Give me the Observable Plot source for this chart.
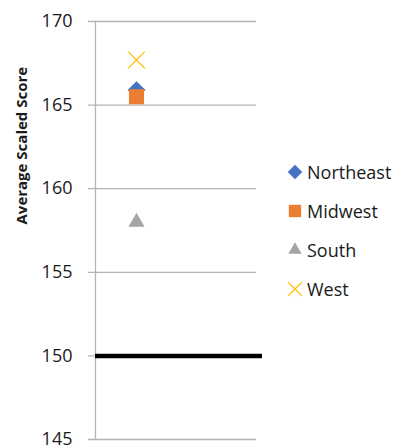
<!DOCTYPE html>
<html><head><meta charset="utf-8">
<script src="https://cdn.jsdelivr.net/npm/d3@7"></script>
<script src="https://cdn.jsdelivr.net/npm/@observablehq/plot@0.6"></script>
<style>
body{margin:0;background:#fff;font-family:"Open Sans",sans-serif;}
#wrap{position:relative;width:399px;height:447px;}
#legend{position:absolute;left:287px;top:152px;font-size:18px;color:#1a1a1a;}
.row{display:flex;align-items:center;height:39px;}
.row svg{margin-right:4px;}
</style></head><body>
<div id="wrap"><div id="chart"></div><div id="legend"></div></div>
<script>
const categories = ["1", "2"];
const regions = ["Northeast", "Midwest", "South", "West"];
const scores = [165.9, 165.5, 158.0, 167.7];
const colors = ["#4472C4", "#ED7D31", "#A5A5A5", "#FFC000"];
const benchmark = [150];
const yTicks = [145, 150, 155, 160, 165, 170];

const symbols = [d3.symbolDiamond2, d3.symbolSquare, d3.symbolTriangle, d3.symbolTimes];
const sizes = [8, 8.5, 6, 7.6];
const data = regions.map((r, i) => ({region: r, score: scores[i], cat: categories[0], color: colors[i], symbol: symbols[i], r: sizes[i]}));

const plot = Plot.plot({
  width: 399, height: 447,
  marginTop: 21, marginBottom: 8, marginLeft: 95, marginRight: 143,
  style: {fontFamily: "Open Sans, sans-serif", fontSize: "18px", color: "#1a1a1a"},
  x: {type: "band", domain: categories, padding: 0, axis: null},
  y: {domain: [145, 170], ticks: yTicks, label: null},
  marks: [
    Plot.ruleY(yTicks, {stroke: "#b4b4b4", strokeWidth: 1.3, insetLeft: -7}),
    Plot.frame({anchor: "left", stroke: "#b4b4b4", strokeWidth: 1.3}),
    Plot.axisY({ticks: yTicks, tickSize: 0, tickPadding: 23, fontSize: 18, label: null}),
    Plot.text(["Average Scaled Score"], {frameAnchor: "left", dx: -73, dy: -6, rotate: -90, fontWeight: "bold", fontSize: 15}),
    Plot.ruleY(benchmark, {stroke: "#000", strokeWidth: 4.5, insetRight: -6}),
    ...data.filter(d => d.region !== "West").map(d =>
      Plot.dot([d], {x: "cat", y: "score", symbol: () => d.symbol, r: d.r, fill: d.color, stroke: "none"})),
    ...data.filter(d => d.region === "West").map(d =>
      Plot.dot([d], {x: "cat", y: "score", symbol: () => d.symbol, r: d.r, stroke: d.color, strokeWidth: 1.2, fill: "none"}))
  ]
});
document.getElementById("chart").appendChild(plot);

const legend = d3.select("#legend");
data.forEach((d, i) => {
  const row = legend.append("div").attr("class", "row");
  const s = row.append("svg").attr("width", 16).attr("height", 16);
  const size = Math.PI * (d.r * 0.82) ** 2;
  const p = s.append("path").attr("transform", "translate(8,8)").attr("d", d3.symbol(d.symbol, size)());
  if (d.region === "West") p.attr("fill", "none").attr("stroke", d.color).attr("stroke-width", 1.2);
  else p.attr("fill", d.color);
  row.append("span").text(d.region);
});
</script></body></html>
